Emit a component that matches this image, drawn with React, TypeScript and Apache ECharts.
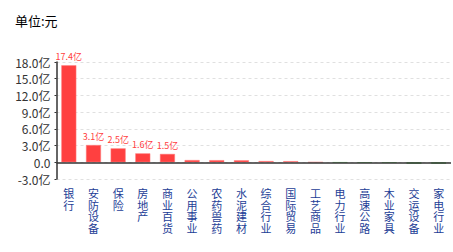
import React, { useEffect, useRef } from "react";
import * as echarts from "echarts";

const categories = ["银行", "安防设备", "保险", "房地产", "商业百货", "公用事业", "农药兽药", "水泥建材", "综合行业", "国际贸易", "工艺商品", "电力行业", "高速公路", "木业家具", "交运设备", "家电行业"];
const values = [17.4, 3.1, 2.5, 1.6, 1.5, 0.4, 0.38, 0.36, 0.22, 0.2, 0.02, -0.06, -0.08, -0.1, -0.25, -0.25];
const labelCount = 5;

export default function App() {
  const ref = useRef<HTMLDivElement>(null);
  useEffect(() => {
    const chart = echarts.init(ref.current!, null, { renderer: "svg" });
    chart.setOption({
      animation: false,
      textStyle: { fontFamily: "'Noto Sans CJK SC', sans-serif" },
      title: {
        text: "单位:元",
        left: 10,
        top: 9,
        textStyle: { fontSize: 13, fontWeight: "normal", color: "#000" },
      },
      grid: { left: 56.5, top: 62, right: 2, bottom: 73, containLabel: false },
      xAxis: {
        type: "category",
        data: categories,
        axisLine: { show: false, onZero: false },
        axisTick: { show: false },
        splitLine: { show: false },
        axisLabel: {
          interval: 0,
          margin: 8,
          fontSize: 11,
          lineHeight: 11.7,
          color: "#1c3d96",
          formatter: (v: string) => v.split("").join("\n"),
        },
      },
      yAxis: {
        type: "value",
        min: -3,
        max: 18,
        interval: 3,
        axisLine: { show: true, lineStyle: { color: "#333", width: 1.5 } },
        axisTick: { show: true, length: 2, lineStyle: { color: "#333" } },
        splitLine: { show: true, lineStyle: { color: "#e0e0e0", type: [3, 3] } },
        axisLabel: {
          margin: 6,
          fontSize: 12,
          color: "#333",
          formatter: (v: number) => (v === 0 ? "0.0" : v.toFixed(1) + "亿"),
        },
      },
      series: [
        {
          type: "bar",
          barWidth: 15,
          data: values.map((v, i) => ({
            value: v,
            itemStyle: {
              color: v >= 0 ? "#ff4040" : "#2a9d2a",
              borderColor: v >= 0 ? "#ff8080" : "#5cc25c",
              borderWidth: 0.5,
            },
            label: {
              show: i < labelCount,
              position: "top",
              distance: 4,
              fontSize: 9,
              color: "#ff4040",
              formatter: (p: any) => p.value.toFixed(1) + "亿",
            },
          })),
          markLine: {
            silent: true,
            symbol: "none",
            label: { show: false },
            lineStyle: { color: "#333", width: 1.5, type: "solid" },
            data: [{ yAxis: 0 }],
          },
        },
      ],
    });
    return () => chart.dispose();
  }, []);
  return <div ref={ref} style={{ width: 453, height: 252, position: "absolute", left: 0, top: 0 }} />;
}
